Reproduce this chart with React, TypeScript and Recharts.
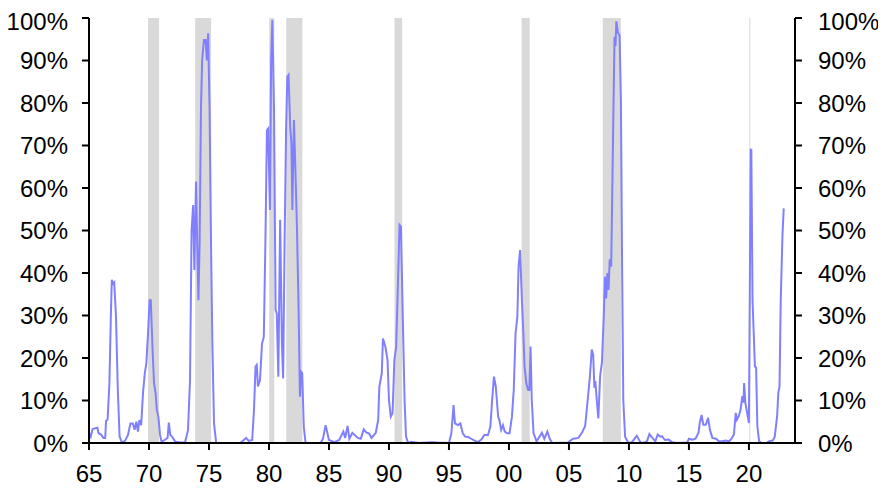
import React from 'react';
import {
  LineChart,
  Line,
  XAxis,
  YAxis,
  ReferenceArea,
} from 'recharts';

// share (%), x = fractional year
const years = [
  1965.0, 1965.15, 1965.3, 1965.55, 1965.7, 1965.8, 1966.0, 1966.2, 1966.35, 1966.42,
  1966.55, 1966.7, 1966.82, 1966.9, 1967.0, 1967.1, 1967.25, 1967.4, 1967.55, 1967.75,
  1968.0, 1968.25, 1968.45, 1968.65, 1968.8, 1968.95, 1969.08, 1969.2, 1969.35, 1969.5,
  1969.65, 1969.78, 1969.92, 1970.05, 1970.15, 1970.3, 1970.42, 1970.55, 1970.65, 1970.78,
  1970.92, 1971.05, 1971.3, 1971.55, 1971.65, 1971.78, 1971.92, 1972.2, 1972.6, 1973.0,
  1973.25, 1973.42, 1973.55, 1973.68, 1973.78, 1973.92, 1974.02, 1974.12, 1974.22, 1974.33,
  1974.43, 1974.58, 1974.72, 1974.82, 1974.93, 1975.05, 1975.17, 1975.28, 1975.42, 1975.6,
  1977.6, 1977.9, 1978.1, 1978.3, 1978.6, 1978.75, 1978.88, 1978.98, 1979.08, 1979.25,
  1979.42, 1979.57, 1979.7, 1979.83, 1979.93, 1980.08, 1980.18, 1980.28, 1980.42, 1980.55,
  1980.65, 1980.78, 1980.93, 1981.08, 1981.18, 1981.3, 1981.43, 1981.53, 1981.63, 1981.77,
  1981.87, 1981.95, 1982.08, 1982.18, 1982.33, 1982.47, 1982.58, 1982.67, 1982.77, 1982.9,
  1983.05, 1984.3, 1984.5, 1984.72, 1985.0, 1985.45, 1985.85, 1986.2, 1986.35, 1986.55,
  1986.7, 1986.95, 1987.15, 1987.4, 1987.65, 1987.9, 1988.1, 1988.35, 1988.55, 1988.9,
  1989.1, 1989.2, 1989.4, 1989.5, 1989.7, 1989.88, 1990.0, 1990.15, 1990.3, 1990.45,
  1990.6, 1990.75, 1990.88, 1991.0, 1991.15, 1991.3, 1991.42, 1991.6, 1991.85, 1992.5,
  1993.5, 1994.0, 1995.0, 1995.2, 1995.38, 1995.5, 1995.75, 1995.95, 1996.15, 1996.35,
  1996.6, 1996.85, 1997.1, 1997.4, 1997.7, 1997.95, 1998.25, 1998.45, 1998.6, 1998.75,
  1998.9, 1999.1, 1999.2, 1999.35, 1999.5, 1999.65, 1999.85, 2000.05, 2000.25, 2000.4,
  2000.55, 2000.7, 2000.8, 2000.93, 2001.08, 2001.2, 2001.3, 2001.45, 2001.6, 2001.7,
  2001.8, 2001.9, 2002.05, 2002.3, 2002.55, 2002.75, 2002.95, 2003.2, 2003.4, 2003.6,
  2004.9, 2005.35, 2005.8, 2006.1, 2006.35, 2006.55, 2006.75, 2006.9, 2007.02, 2007.12,
  2007.2, 2007.33, 2007.45, 2007.6, 2007.75, 2007.9, 2008.0, 2008.1, 2008.2, 2008.3,
  2008.4, 2008.52, 2008.68, 2008.8, 2008.88, 2008.95, 2009.08, 2009.22, 2009.33, 2009.43,
  2009.53, 2009.68, 2009.95, 2010.25, 2010.65, 2010.95, 2011.2, 2011.5, 2011.7, 2011.95,
  2012.2, 2012.4, 2012.6, 2012.75, 2013.0, 2013.3, 2013.6, 2014.0, 2014.85, 2015.0,
  2015.3, 2015.55, 2015.8, 2015.9, 2016.05, 2016.2, 2016.4, 2016.6, 2016.75, 2016.95,
  2017.25, 2017.5, 2017.8, 2018.05, 2018.35, 2018.55, 2018.75, 2018.9, 2019.0, 2019.15,
  2019.3, 2019.45, 2019.55, 2019.6, 2019.7, 2019.85, 2020.0, 2020.05, 2020.15, 2020.2,
  2020.3, 2020.4, 2020.5, 2020.6, 2020.7, 2020.85, 2021.05, 2021.45, 2021.7, 2022.0,
  2022.15, 2022.35, 2022.45, 2022.55, 2022.65, 2022.8, 2022.9,
];

const shares = [
  2.5, 1.5, 3.3, 3.5, 3.6, 2.3, 2.0, 1.2, 1.2, 5.2,
  5.5, 14, 29.7, 38.4, 37.5, 37.8, 29.7, 12.5, 1.5, 0.1,
  0.5, 1.9, 4.6, 4.6, 3.1, 5.0, 2.7, 5.4, 4.2, 11.7,
  16.4, 18.8, 25.8, 33.6, 33.6, 21.9, 14, 11.7, 7.8, 6.2,
  1.9, 0.3, 0.7, 1.2, 4.8, 1.9, 1.5, 0.3, 0.1, 0.1,
  3.0, 15, 50, 56, 40.7, 61.5, 47, 33.6, 47, 78.4,
  90.1, 94.8, 94.8, 90, 96.4, 78.4, 47, 23.4, 4.6, 0,
  0, 0.7, 1.2, 0.5, 0.7, 7.8, 18, 18.4, 13.3, 14.8,
  23.4, 25, 47, 73.6, 74, 54.8, 90.1, 99.5, 78.4, 31.3,
  30.5, 15.6, 52.5, 23.4, 15.2, 47, 74.4, 86.2, 86.6, 74.4,
  70.5, 54.8, 76, 66.6, 50.9, 31.3, 10.9, 16.8, 16.4, 3.8,
  0, 0, 1.0, 4.2, 0.7, 0.2, 0.7, 2.7, 1.2, 4.0,
  1.0, 2.4, 1.9, 1.2, 1.0, 3.2, 2.5, 2.2, 1.2, 2.4,
  5.4, 13.3, 16.4, 24.6, 22.7, 19.5, 10.1, 6.2, 7.0, 19.5,
  22.7, 37.6, 51.3, 50.9, 29.7, 10.1, 1.5, 0, 0.3, 0,
  0.2, 0.1, 0, 2.3, 8.9, 4.6, 4.2, 4.6, 2.3, 1.5,
  1.4, 1.0, 0.6, 0.2, 0.8, 1.9, 1.9, 3.8, 10.1, 15.6,
  13.3, 6.2, 5.4, 3.1, 4.2, 2.7, 2.3, 2.3, 6.2, 12.5,
  25.8, 29.7, 41.5, 45.4, 33.6, 25.8, 18, 14, 12.5, 12.5,
  22.7, 10.1, 2.3, 0.4, 1.5, 2.4, 1.0, 2.7, 1.0, 0,
  0.1, 1.0, 1.2, 2.5, 4.0, 9.7, 15.8, 22.0, 20.8, 13,
  14.6, 9.7, 5.8, 15.8, 19, 29.7, 39.1, 34, 40, 36,
  43.2, 41.5, 73, 95.6, 93.4, 99.2, 96.6, 95.9, 80.8, 41.5,
  10, 1.5, 0, 0.2, 1.7, 0.2, 0, 0.4, 2.1, 1.2,
  0.4, 2.0, 1.5, 1.6, 0.7, 0.8, 0.2, 0, 0.1, 1.0,
  0.8, 1.0, 2.4, 4.7, 6.6, 4.3, 4.3, 5.9, 3.1, 1.2,
  1.0, 0.4, 0.4, 0.6, 0.4, 1.0, 2.0, 7.1, 5.5, 6.3,
  7.8, 11, 9.5, 14.1, 9.5, 7.1, 4.7, 25.9, 69, 69,
  33.6, 25.9, 18, 17.7, 4.0, 0.4, 0, 0, 0.4, 0.6,
  1.5, 6.3, 11.8, 13.3, 33.6, 49.3, 55.2,
];

const recessionStarts = [1969.92, 1973.85, 1980.02, 1981.44, 1990.46, 2001.06, 2007.82, 2020.03];
const recessionEnds = [1970.84, 1975.18, 1980.44, 1982.78, 1991.1, 2001.73, 2009.33, 2020.12];

const xTicks = [1965, 1970, 1975, 1980, 1985, 1990, 1995, 2000, 2005, 2010, 2015, 2020];
const yTicks = [0, 10, 20, 30, 40, 50, 60, 70, 80, 90, 100];

const data = years.map((year, i) => ({ year, share: shares[i] }));

const tickStyle = { fontSize: 24, fill: '#000', fontFamily: '"Liberation Sans", Arial, sans-serif' };
const axisStroke = { stroke: '#000', strokeWidth: 2 };

const fmtYear = (v: number) => String(Math.round(v) % 100).padStart(2, '0');
const fmtPct = (v: number) => `${v}%`;

export default function App() {
  return (
    <div style={{ width: 870, height: 483 }}>
      <LineChart width={870} height={483} data={data} margin={{ top: 10, right: 0, bottom: 8, left: 0 }}>
        <XAxis
          dataKey="year"
          type="number"
          domain={[1965, 2023.84]}
          allowDataOverflow
          ticks={xTicks}
          tickFormatter={fmtYear}
          tick={tickStyle}
          tickSize={7}
          tickMargin={15}
          axisLine={axisStroke}
          tickLine={axisStroke}
          height={40}
        />
        <YAxis
          yAxisId="left"
          domain={[0, 100]}
          ticks={yTicks}
          tickFormatter={fmtPct}
          tick={tickStyle}
          tickSize={7}
          tickMargin={14}
          axisLine={axisStroke}
          tickLine={axisStroke}
          width={81}
          allowDataOverflow
        />
        <YAxis
          yAxisId="right"
          orientation="right"
          domain={[0, 100]}
          ticks={yTicks}
          tickFormatter={fmtPct}
          tick={tickStyle}
          tickSize={7}
          tickMargin={16}
          axisLine={axisStroke}
          tickLine={axisStroke}
          width={83}
          allowDataOverflow
        />
        {recessionStarts.map((s, i) => (
          <ReferenceArea
            key={i}
            yAxisId="left"
            x1={s}
            x2={recessionEnds[i]}
            y1={0}
            y2={100}
            fill="#d9d9d9"
            fillOpacity={1}
            stroke="none"
            ifOverflow="hidden"
          />
        ))}
        <Line
          yAxisId="left"
          dataKey="share"
          type="linear"
          stroke="#8080ff"
          strokeWidth={2}
          dot={false}
          isAnimationActive={false}
        />
      </LineChart>
    </div>
  );
}
